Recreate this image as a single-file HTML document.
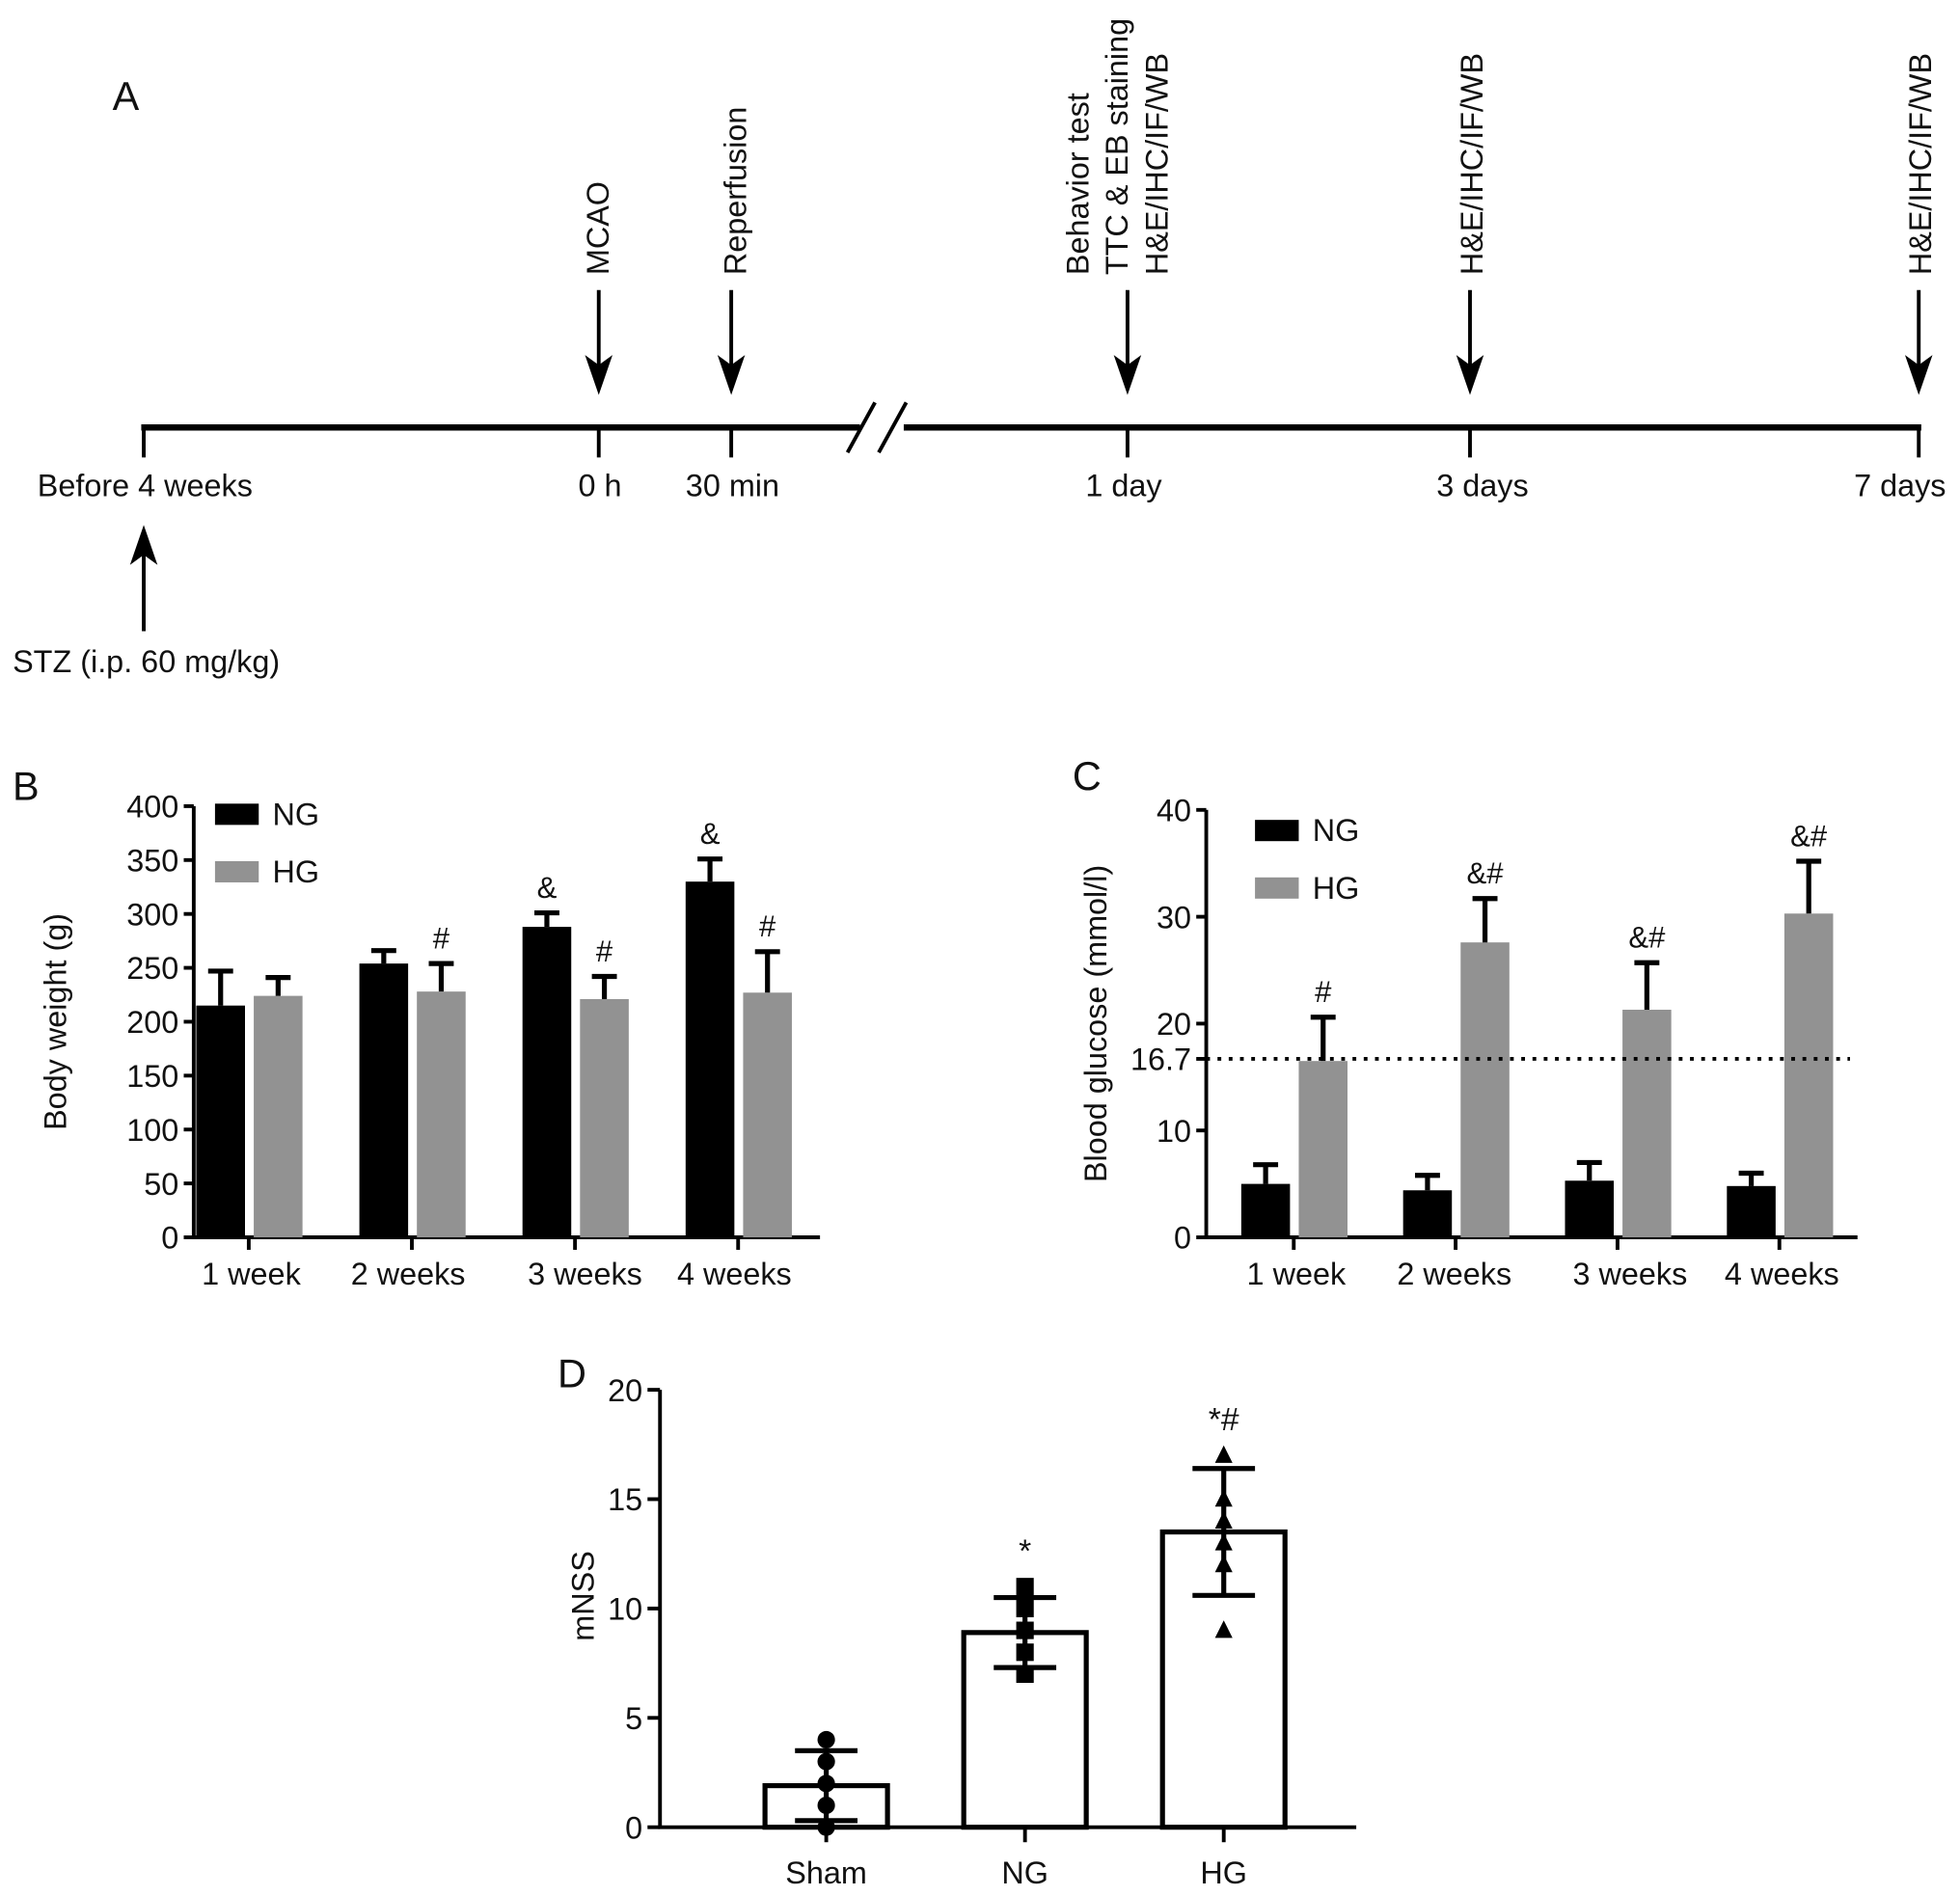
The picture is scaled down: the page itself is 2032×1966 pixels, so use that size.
<!DOCTYPE html>
<html><head><meta charset="utf-8">
<style>
html,body{margin:0;padding:0;background:#fff;}
svg{display:block;}
text{font-family:"Liberation Sans Narrow","Liberation Sans",sans-serif;fill:#111;}
.rt{font-family:"Liberation Sans",sans-serif;}
</style></head>
<body>
<svg id="fig" width="2032" height="1966" viewBox="0 0 1568 1517" xmlns="http://www.w3.org/2000/svg">
<defs>
<marker id="ah" markerWidth="10" markerHeight="10" refX="5" refY="9" orient="auto" markerUnits="userSpaceOnUse" viewBox="0 0 10 10"></marker>
</defs>
<g id="panelA"></g>
<g id="panelB"></g>
<g id="panelC"></g>
<g id="panelD"></g>
</svg>
<script>
// ---------- Panel B data ----------
const bCategories = ["1 week","2 weeks","3 weeks","4 weeks"];
const bNG = [215,254,288,330];
const bNGerr = [32,12,13,21];
const bHG = [224,228,221,227];
const bHGerr = [17,26,21,38];
const bTicks = [0,50,100,150,200,250,300,350,400];
const bNGmark = ["","","&","&"];
const bHGmark = ["","#","#","#"];
// ---------- Panel C data ----------
const cCategories = ["1 week","2 weeks","3 weeks","4 weeks"];
const cNG = [5.0,4.4,5.3,4.8];
const cNGerr = [1.8,1.4,1.7,1.2];
const cHG = [16.5,27.6,21.3,30.3];
const cHGerr = [4.1,4.1,4.4,4.9];
const cTicks = [0,10,20,30,40];
const cThreshold = 16.7;
const cNGmark = ["","","",""];
const cHGmark = ["#","&#","&#","&#"];
// ---------- Panel D data ----------
const dCategories = ["Sham","NG","HG"];
const dMeans = [1.9,8.9,13.5];
const dSD = [1.6,1.6,2.9];
const dPoints = [[0,1,2,3,4],[7,8,9,10,11],[9,12,13,14,15,17]];
const dTicks = [0,5,10,15,20];
const dMarks = ["","*","*#"];

const NS="http://www.w3.org/2000/svg";
function mk(parent,tag,attrs,txt){const e=document.createElementNS(NS,tag);for(const k in attrs)e.setAttribute(k,attrs[k]);if(txt!==undefined)e.textContent=txt;parent.appendChild(e);return e;}

// ---------- Panel A ----------
const A=document.getElementById('panelA');
let t=mk(A,'text',{x:90,y:88,'font-size':32,class:'rt'},'A');

let l=mk(A,'path',{d:'M113,342 H688 M723,342 H1537',stroke:'#000','stroke-width':5,fill:'none'});

let br=mk(A,'path',{d:'M678,362 L700,322 M703,362 L725,322',stroke:'#000','stroke-width':3});

const tx=[115,479,585,902,1176,1535];
const tl=["Before 4 weeks","0 h","30 min","1 day","3 days","7 days"];
const tlx=[116,480,586,899,1186,1520];
tx.forEach((x,i)=>{
  let k=mk(A,'line',{x1:x,y1:340,x2:x,y2:366,stroke:'#000','stroke-width':3});
  
  let lb=mk(A,'text',{x:tlx[i],y:397,'font-size':25,'text-anchor':'middle'},tl[i]);
  
});
function downArrow(x){
  let g=mk(A,'g',{});
  
  mk(g,'line',{x1:x,y1:232,x2:x,y2:300,stroke:'#000','stroke-width':3});
  mk(g,'path',{d:`M${x-11},284 L${x},316 L${x+11},284 L${x},292 Z`,fill:'#000'});
}
[479,585,902,1176,1535].forEach(downArrow);
let ua=mk(A,'g',{});
mk(ua,'line',{x1:115,y1:505,x2:115,y2:435,stroke:'#000','stroke-width':3});
mk(ua,'path',{d:'M104,452 L115,420 L126,452 L115,444 Z',fill:'#000'});
let stz=mk(A,'text',{x:117,y:538,'font-size':25,'text-anchor':'middle'},'STZ (i.p. 60 mg/kg)');

function vtext(x,str,name){let e=mk(A,'text',{x:0,y:0,'font-size':25,class:'rt',transform:`translate(${x},220) rotate(-90)`},str);
 }
vtext(487,'MCAO','mcao-label');
vtext(597,'Reperfusion','reperfusion-label');
vtext(871,'Behavior test','behavior-test-label');
vtext(902,'TTC & EB staining','ttc-eb-label');
vtext(934,'H&E/IHC/IF/WB','day1-assays-label');
vtext(1186,'H&E/IHC/IF/WB','day3-assays-label');
vtext(1545,'H&E/IHC/IF/WB','day7-assays-label');

// ---------- generic grouped chart ----------
function grouped(G,o){
  const y=v=>o.y0-(v-o.vmin)/(o.vmax-o.vmin)*(o.y0-o.ytop);
  let pl=mk(G,'text',{x:o.px,y:o.py,'font-size':32,class:'rt'},o.panel);
  
  let ax=mk(G,'path',{d:`M${o.ax},${o.ytop} V${o.y0} H${o.axEnd}`,stroke:'#000','stroke-width':3,fill:'none'});
  
  o.ticks.forEach(v=>{
    let tk=mk(G,'line',{x1:o.ax-8,y1:y(v),x2:o.ax,y2:y(v),stroke:'#000','stroke-width':3});
    
    let tl=mk(G,'text',{x:o.ax-12,y:y(v)+9,'font-size':25,'text-anchor':'end'},String(v));
    
  });
  let yl=mk(G,'text',{x:0,y:0,'font-size':25,class:'rt','text-anchor':'middle',transform:`translate(${o.ylx},${(o.y0+o.ytop)/2}) rotate(-90)`},o.ylabel);
  
  const bw=39;
  o.cats.forEach((c,i)=>{
    const cx=o.gx0+i*o.gstep+(i>=2?o.gextra:0);
    const series=[[o.ng,o.ngErr,'#000',cx-bw-3,o.ngMark,'ng'],[o.hg,o.hgErr,'#929292',cx+4,o.hgMark,'hg']];
    series.forEach(([vals,errs,col,x0,marks,nm])=>{
      const top=y(vals[i]), et=y(vals[i]+errs[i]);
      let r=mk(G,'rect',{x:x0,y:top,width:bw,height:o.y0-top,fill:col});
      
      let e=mk(G,'path',{d:`M${x0+bw/2},${top} V${et} M${x0+bw/2-10},${et} H${x0+bw/2+10}`,stroke:'#000','stroke-width':4,fill:'none'});
      
      if(marks[i]){let m=mk(G,'text',{x:x0+bw/2,y:et-12,'font-size':24,'text-anchor':'middle'},marks[i]);
        }
    });
    let xt=mk(G,'line',{x1:cx,y1:o.y0,x2:cx,y2:o.y0+10,stroke:'#000','stroke-width':3});
    
    let xl=mk(G,'text',{x:cx+o.lblOff[i],y:o.y0+38,'font-size':25,'text-anchor':'middle'},c);
    
  });
  [['#000','NG',o.legY],['#929292','HG',o.legY+46]].forEach(([col,lab,ly])=>{
    let g=mk(G,'g',{});
    mk(g,'rect',{x:o.legX,y:ly,width:35,height:17,fill:col});
    mk(g,'text',{x:o.legX+46,y:ly+17,'font-size':25},lab);
  });
  return y;
}
grouped(document.getElementById('panelB'),{panel:'B',px:10,py:640,ax:155,axEnd:656,y0:990,ytop:645,vmin:0,vmax:400,ticks:bTicks,
  ylabel:'Body weight (g)',ylx:53,cats:bCategories,ng:bNG,ngErr:bNGerr,hg:bHG,hgErr:bHGerr,ngMark:bNGmark,hgMark:bHGmark,
  gx0:199,gstep:130.5,gextra:0,lblOff:[2,-3,8,-3],legX:172,legY:643});
const yC=grouped(document.getElementById('panelC'),{panel:'C',px:858,py:632,ax:965,axEnd:1486,y0:990,ytop:648,vmin:0,vmax:40,ticks:cTicks,
  ylabel:'Blood glucose (mmol/l)',ylx:885,cats:cCategories,ng:cNG,ngErr:cNGerr,hg:cHG,hgErr:cHGerr,ngMark:cNGmark,hgMark:cHGmark,
  gx0:1035,gstep:129.5,gextra:0,lblOff:[2,-1,10,2],legX:1004,legY:656});
(function(){const C=document.getElementById('panelC');
 let d=mk(C,'line',{x1:965,y1:yC(cThreshold),x2:1480,y2:yC(cThreshold),stroke:'#000','stroke-width':3,'stroke-dasharray':'3,6'});
 
 let tl=mk(C,'text',{x:953,y:yC(cThreshold)+9,'font-size':25,'text-anchor':'end'},String(cThreshold));
 
 let tk=mk(C,'line',{x1:957,y1:yC(cThreshold),x2:965,y2:yC(cThreshold),stroke:'#000','stroke-width':3});
 
})();

// ---------- Panel D ----------
(function(){
 const G=document.getElementById('panelD');
 const y0=1462,ytop=1112,ax=528;
 const y=v=>y0-(v-0)/(20-0)*(y0-ytop);
 const cx=[661,820,979];
 let pl=mk(G,'text',{x:446,y:1110,'font-size':32,class:'rt'},'D');
 
 let axs=mk(G,'path',{d:`M${ax},${ytop} V${y0} H1085`,stroke:'#000','stroke-width':3,fill:'none'});
 
 dTicks.forEach(v=>{
  let tk=mk(G,'line',{x1:ax-10,y1:y(v),x2:ax,y2:y(v),stroke:'#000','stroke-width':3});
  
  let tl=mk(G,'text',{x:ax-14,y:y(v)+9,'font-size':25,'text-anchor':'end'},String(v));
  
 });
 let yl=mk(G,'text',{x:0,y:0,'font-size':25,class:'rt','text-anchor':'middle',transform:`translate(475,1277) rotate(-90)`},'mNSS');
 
 dCategories.forEach((c,i)=>{
  const x=cx[i],bw=98,top=y(dMeans[i]);
  let r=mk(G,'rect',{x:x-bw/2,y:top,width:bw,height:y0-top,fill:'#fff',stroke:'#000','stroke-width':4});
  
  dPoints[i].forEach(p=>{
   let m;
   if(i===0) m=mk(G,'circle',{cx:x,cy:y(p),r:7,fill:'#000'});
   else if(i===1) m=mk(G,'rect',{x:x-7,y:y(p)-7,width:14,height:14,fill:'#000'});
   else m=mk(G,'path',{d:`M${x-7},${y(p)+6} L${x},${y(p)-8} L${x+7},${y(p)+6} Z`,fill:'#000'});
   
  });
  const hi=y(dMeans[i]+dSD[i]),lo=y(dMeans[i]-dSD[i]);
  let e=mk(G,'path',{d:`M${x},${hi} V${lo} M${x-25},${hi} H${x+25} M${x-25},${lo} H${x+25}`,stroke:'#000','stroke-width':4,fill:'none'});
  
  let xt=mk(G,'line',{x1:x,y1:y0,x2:x,y2:y0+12,stroke:'#000','stroke-width':3});
  
  let xl=mk(G,'text',{x:x,y:y0+45,'font-size':25,'text-anchor':'middle'},c);
  
  if(dMarks[i]){
   const topPt=Math.max(...dPoints[i],dMeans[i]+dSD[i]);
   let m=mk(G,'text',{x:x,y:y(topPt)-20,'font-size':26,'text-anchor':'middle'},dMarks[i]);
   
  }
 });
})();
</script>
</body></html>
